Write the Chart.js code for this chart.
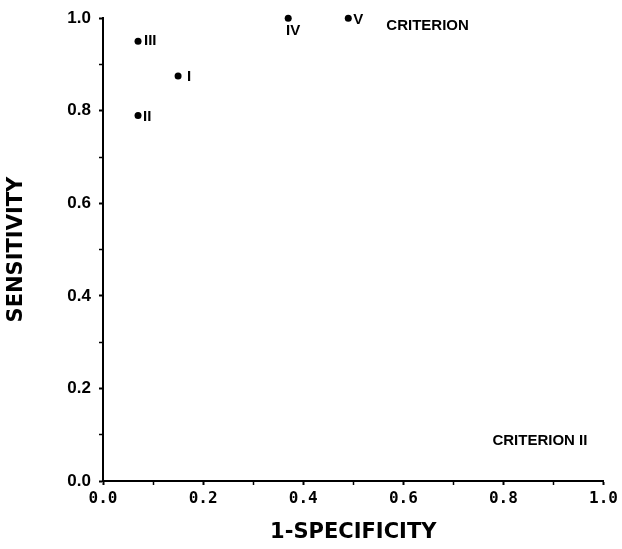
<!DOCTYPE html>
<html>
<head>
<meta charset="utf-8">
<script src="https://cdn.jsdelivr.net/npm/chart.js@4/dist/chart.umd.min.js"></script>
<style>
  html, body { margin: 0; padding: 0; background: #fff; }
  #roc { display: block; }
</style>
</head>
<body>
<canvas id="roc" width="622" height="549"></canvas>
<script>
// operating points, one per criterion
const pointNames = ['I', 'II', 'III', 'IV', 'V'];
const falsePosRate = [0.15, 0.07, 0.07, 0.37, 0.49];   // 1 - specificity
const sensitivity = [0.875, 0.79, 0.95, 1.0, 1.0];

// free text notes placed in data space
const noteTexts = ['CRITERION', 'CRITERION II'];
const noteX = [0.566, 0.778];
const noteY = [0.983, 0.087];

const axisTicks = [0, 0.2, 0.4, 0.6, 0.8, 1.0];

// where each point's name sits relative to its dot (pixels)
const nameOffset = {
  I:   { dx: 9, dy: 1, align: 'left' },
  II:  { dx: 5, dy: 1, align: 'left' },
  III: { dx: 6, dy: 0, align: 'left' },
  IV:  { dx: 5, dy: 13, align: 'center' },
  V:   { dx: 5, dy: 2, align: 'left' }
};

const pts = pointNames.map((n, i) => ({ x: falsePosRate[i], y: sensitivity[i] }));

function tickLabel(value) {
  const hit = axisTicks.find(t => Math.abs(t - value) < 1e-6);
  return hit === undefined ? '' : hit.toFixed(1);
}

function isMajor(ctx) {
  return ctx.tick && tickLabel(ctx.tick.value) !== '';
}

const labelPlugin = {
  id: 'pointNames',
  afterDatasetsDraw(chart) {
    const ctx = chart.ctx;
    const meta = chart.getDatasetMeta(0);
    const xs = chart.scales.x;
    const ys = chart.scales.y;
    ctx.save();
    ctx.fillStyle = '#000';
    ctx.textBaseline = 'middle';

    ctx.font = 'bold 15px "Liberation Sans", Arial, sans-serif';
    meta.data.forEach((el, i) => {
      const name = pointNames[i];
      const o = nameOffset[name];
      ctx.textAlign = o.align;
      ctx.fillText(name, el.x + o.dx, el.y + o.dy);
    });

    ctx.textAlign = 'left';
    noteTexts.forEach((t, i) => {
      ctx.fillText(t, xs.getPixelForValue(noteX[i]), ys.getPixelForValue(noteY[i]));
    });
    ctx.restore();
  }
};

Chart.defaults.color = '#000';

new Chart(document.getElementById('roc'), {
  type: 'scatter',
  data: {
    datasets: [{
      data: pts,
      backgroundColor: '#000',
      borderWidth: 0,
      pointRadius: 3.5,
      pointHoverRadius: 3.5,
      clip: false
    }]
  },
  options: {
    responsive: false,
    animation: false,
    layout: { padding: { top: 9, right: 16, left: 0, bottom: 0 } },
    plugins: {
      legend: { display: false },
      tooltip: { enabled: false }
    },
    scales: {
      x: {
        type: 'linear',
        min: 0,
        max: 1,
        afterFit(scale) { scale.height = 68; },
        border: { display: true, color: '#000', width: 2 },
        grid: {
          drawOnChartArea: false,
          drawTicks: true,
          tickLength: 4,
          tickColor: '#000',
          tickWidth: ctx => isMajor(ctx) ? 2 : 1.5
        },
        ticks: {
          stepSize: 0.1,
          autoSkip: false,
          maxRotation: 0,
          padding: 4,
          font: { family: '"DejaVu Sans Mono", monospace', size: 16, weight: 'bold' },
          callback: v => tickLabel(v)
        },
        title: {
          display: true,
          text: '1-SPECIFICITY',
          padding: 4,
          font: { family: '"DejaVu Sans", sans-serif', size: 21, weight: 'bold' }
        }
      },
      y: {
        type: 'linear',
        min: 0,
        max: 1,
        afterFit(scale) { scale.width = 103; },
        border: { display: true, color: '#000', width: 2 },
        grid: {
          drawOnChartArea: false,
          drawTicks: true,
          tickLength: 4,
          tickColor: '#000',
          tickWidth: ctx => isMajor(ctx) ? 2 : 1.5
        },
        ticks: {
          stepSize: 0.1,
          autoSkip: false,
          padding: 8,
          font: { family: '"Liberation Sans", Arial, sans-serif', size: 17, weight: 'bold' },
          callback: v => tickLabel(v)
        },
        title: {
          display: true,
          text: 'SENSITIVITY',
          padding: 4,
          font: { family: '"DejaVu Sans", sans-serif', size: 21, weight: 'bold' }
        }
      }
    }
  },
  plugins: [labelPlugin]
});
</script>
</body>
</html>
